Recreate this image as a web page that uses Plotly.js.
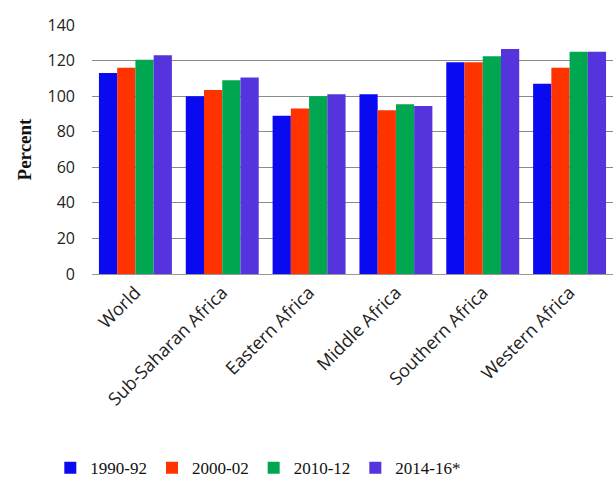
<!DOCTYPE html>
<html><head><meta charset="utf-8">
<script src="https://cdn.plot.ly/plotly-3.0.1.min.js"></script>
<style>html,body{margin:0;padding:0;background:#fff}#chart{width:616px;height:491px}</style>
</head><body><div id="chart"></div>
<script>
const categories = ["World","Sub-Saharan Africa","Eastern Africa","Middle Africa","Southern Africa","Western Africa"];
const seriesNames = ["1990-92","2000-02","2010-12","2014-16*"];
const v1990 = [113, 100, 89, 101, 119, 107];
const v2000 = [116, 103.5, 93, 92, 119, 116];
const v2010 = [120.5, 109, 100, 95.5, 122.5, 125];
const v2014 = [123, 110.5, 101, 94.5, 126.5, 125];
const yTicks = [0,20,40,60,80,100,120,140];

const colors = ["#0a0af0","#ff3300","#00a650","#5533dd"];
const allVals = [v1990, v2000, v2010, v2014];
const traces = allVals.map((vals, i) => ({
  type: "bar", x: categories, y: vals, name: seriesNames[i],
  marker: {color: colors[i], line: {width: 0}}
}));

const layout = {
  width: 616, height: 491,
  margin: {l: 92, r: 3, t: 25, b: 217},
  paper_bgcolor: "#fff", plot_bgcolor: "#fff",
  barmode: "group", bargap: 0.16, bargroupgap: 0,
  font: {family: "Open Sans, Liberation Sans, sans-serif", color: "#222"},
  xaxis: {
    tickangle: -45, tickfont: {size: 18, family: "Open Sans, sans-serif", color: "#222"},
    showline: true, linecolor: "#999", linewidth: 1, ticks: "", showgrid: false
  },
  yaxis: {
    range: [0, 140], tickvals: yTicks, ticktext: yTicks.map(String),
    tickfont: {size: 16, family: "Open Sans, sans-serif", color: "#222"},
    ticklabelstandoff: 16,
    showgrid: true, gridcolor: "#8a8a8a", gridwidth: 1, zeroline: false,
    showline: false, ticks: "", ticklen: 0,
    title: {text: "<b>Percent</b>", font: {family: "Liberation Serif, Times New Roman, serif", size: 19, color: "#111"}, standoff: 10}
  },
  showlegend: true,
  legend: {
    orientation: "h", x: -0.08, xanchor: "left", y: -0.78, yanchor: "middle",
    font: {family: "Liberation Serif, Times New Roman, serif", size: 17, color: "#111"},
    itemwidth: 30, traceorder: "normal"
  }
};
Plotly.newPlot("chart", traces, layout, {displayModeBar: false, staticPlot: true});
</script></body></html>
